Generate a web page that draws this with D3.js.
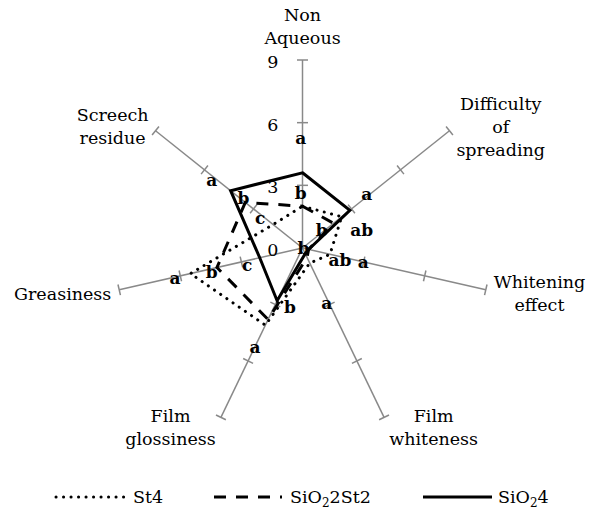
<!DOCTYPE html>
<html>
<head>
<meta charset="utf-8">
<script src="https://cdn.jsdelivr.net/npm/d3@7"></script>
<style>
  html, body { margin: 0; padding: 0; background: #fff; }
  svg { display: block; }
  text { font-family: "DejaVu Serif", "Liberation Serif", serif; }
</style>
</head>
<body>
<div id="chart"></div>
<script>
// ---------- data ----------
const axisNames = [
  ["Non", "Aqueous"],
  ["Difficulty", "of", "spreading"],
  ["Whitening", "effect"],
  ["Film", "whiteness"],
  ["Film", "glossiness"],
  ["Greasiness"],
  ["Screech", "residue"]
];
const tickValues = [0, 3, 6, 9];
const seriesNames = ["St4", "SiO22St2", "SiO24"];
const st4      = [2.0, 2.4, 1.35, 0.8, 4.1, 5.5, 1.8];
const sio2St2  = [2.0, 1.9, 0.3, 0.5, 3.8, 4.2, 3.5];
const sio24    = [3.6, 2.9, 0.3, 0.3, 2.8, 2.1, 4.4];
// significance letters: [axis index, letter, value along axis, offset across axis (value units)]
const letters = [
  [0, "a", 5.28, -0.09], [0, "b", 2.62, -0.09], [0, "b", 0.0, 0.04],
  [1, "a", 4.02, -0.1], [1, "ab", 2.75, 1.09], [1, "b", 1.25, -0.1],
  [2, "ab", 1.88, 0.16], [2, "a", 2.98, 0.0],
  [3, "a", 2.89, 0.1],
  [4, "b", 2.79, -0.68], [4, "a", 5.24, 0.0],
  [5, "a", 6.27, -0.05], [5, "b", 4.49, -0.14], [5, "c", 2.76, -0.2],
  [6, "a", 5.43, -0.16], [6, "b", 3.7, 0.1], [6, "c", 2.47, -0.16]
];

// ---------- layout ----------
const W = 590, H = 516;
const cx = 302.5, cy = 248, R = 188;
const gray = "#898989";
const fs = 17.5;
const n = axisNames.length;
const r = d3.scaleLinear().domain([0, 9]).range([0, R]);
const ang = i => i * 2 * Math.PI / n;

const svg = d3.select("#chart").append("svg").attr("width", W).attr("height", H);
const g = svg.append("g").attr("transform", `translate(${cx},${cy})`);

// axes
const axG = g.append("g");
for (let i = 0; i < n; i++) {
  const a = ang(i), s = Math.sin(a), c = Math.cos(a);
  axG.append("line")
    .attr("x1", 0).attr("y1", 0)
    .attr("x2", r(9) * s).attr("y2", -r(9) * c)
    .attr("stroke", gray).attr("stroke-width", 1.5);
  tickValues.filter(v => v > 0).forEach(v => {
    const px = r(v) * s, py = -r(v) * c, h = 5.5;
    axG.append("line")
      .attr("x1", px - h * c).attr("y1", py - h * s)
      .attr("x2", px + h * c).attr("y2", py + h * s)
      .attr("stroke", gray).attr("stroke-width", 1.5);
  });
}

// tick labels
g.append("g").selectAll("text").data(tickValues).join("text")
  .attr("x", -24).attr("y", d => -r(d) + 2)
  .attr("text-anchor", "end").attr("dominant-baseline", "central")
  .attr("font-size", fs).attr("fill", "#000")
  .text(d => d);

// series
const line = d3.lineRadial()
  .angle((d, i) => ang(i))
  .radius(d => r(d))
  .curve(d3.curveLinearClosed);
const styles = [
  { data: st4, dash: "0.1 7.4", cap: "round", w: 3 },
  { data: sio2St2, dash: "12 10", cap: "butt", w: 3 },
  { data: sio24, dash: null, cap: "butt", w: 3 }
];
styles.forEach(st => {
  g.append("path")
    .attr("d", line(st.data))
    .attr("fill", "none").attr("stroke", "#000")
    .attr("stroke-width", st.w)
    .attr("stroke-dasharray", st.dash)
    .attr("stroke-linecap", st.cap)
    .attr("stroke-linejoin", "miter");
});

// letters
g.append("g").selectAll("text").data(letters).join("text")
  .attr("x", d => { const a = ang(d[0]); return r(d[2]) * Math.sin(a) + r(d[3]) * Math.cos(a); })
  .attr("y", d => { const a = ang(d[0]); return -r(d[2]) * Math.cos(a) + r(d[3]) * Math.sin(a); })
  .attr("text-anchor", "middle").attr("dominant-baseline", "central")
  .attr("font-size", 17).attr("font-weight", "bold").attr("fill", "#000")
  .text(d => d[1]);

// axis labels
const lineH = 23;
axisNames.forEach((lines, i) => {
  const a = ang(i), s = Math.sin(a), c = Math.cos(a);
  const ex = r(9) * s, ey = -r(9) * c;
  const t = g.append("text").attr("font-size", fs).attr("fill", "#000")
    .attr("text-anchor", "middle");
  const spans = lines.map((l, k) => t.append("tspan").attr("x", 0).attr("y", k * lineH).text(l));
  const w = d3.max(spans, sp => sp.node().getComputedTextLength());
  const h = lines.length * lineH;
  let bx, by;
  const gap = 3 + 5 * Math.abs(s);
  if (Math.abs(s) < 0.1) bx = ex; else if (s > 0) bx = ex + gap + w / 2; else bx = ex - gap - w / 2;
  if (c > 0.95) by = ey - 10 - h / 2; else by = ey + 2.7 - 9.2 * c;
  const firstBase = by - h / 2 + lineH * 0.72;
  t.attr("transform", `translate(${bx},${firstBase})`);
});

// legend
const legY = 497;
const legItems = [
  { x1: 56, x2: 124, tx: 133, st: styles[0], parts: [["St4", false]] },
  { x1: 214, x2: 282, tx: 290, st: styles[1], parts: [["SiO", false], ["2", true], ["2St2", false]] },
  { x1: 423, x2: 492, tx: 498, st: styles[2], parts: [["SiO", false], ["2", true], ["4", false]] }
];
const leg = svg.append("g");
legItems.forEach(it => {
  leg.append("line")
    .attr("x1", it.x1).attr("x2", it.x2).attr("y1", legY).attr("y2", legY)
    .attr("stroke", "#000").attr("stroke-width", it.st.w)
    .attr("stroke-dasharray", it.st.dash).attr("stroke-linecap", it.st.cap);
  const t = leg.append("text").attr("x", it.tx).attr("y", legY + 6)
    .attr("font-size", fs).attr("fill", "#000");
  it.parts.forEach((p, k) => {
    const sp = t.append("tspan").text(p[0]);
    if (p[1]) sp.attr("font-size", 12).attr("dy", 4);
    else if (k > 0) sp.attr("dy", -4);
  });
});
</script>
</body>
</html>
